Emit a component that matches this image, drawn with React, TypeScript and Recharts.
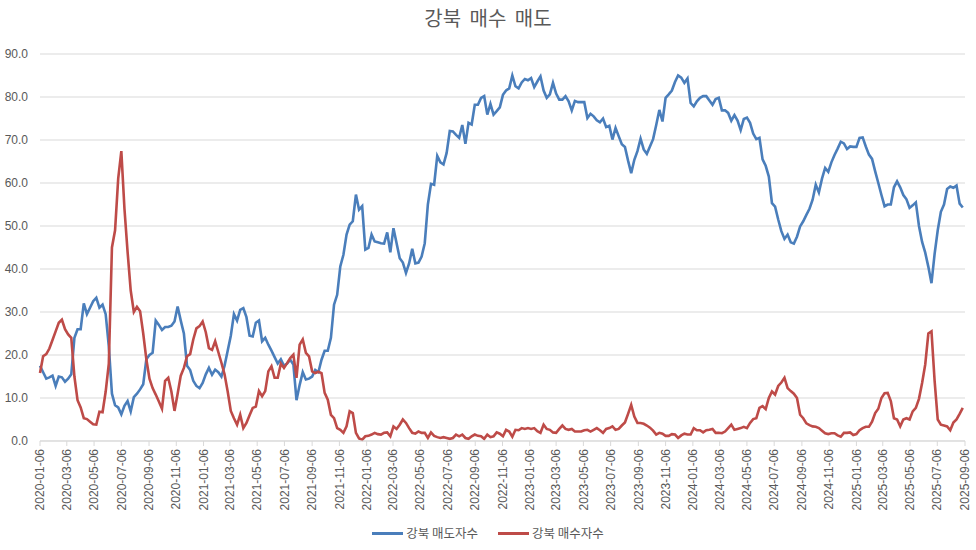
import { LineChart, Line, XAxis, YAxis, CartesianGrid } from 'recharts';

const startDate = '2020-01-06';

const tickLabels = [
  '2020-01-06', '2020-03-06', '2020-05-06', '2020-07-06', '2020-09-06', '2020-11-06',
  '2021-01-06', '2021-03-06', '2021-05-06', '2021-07-06', '2021-09-06', '2021-11-06',
  '2022-01-06', '2022-03-06', '2022-05-06', '2022-07-06', '2022-09-06', '2022-11-06',
  '2023-01-06', '2023-03-06', '2023-05-06', '2023-07-06', '2023-09-06', '2023-11-06',
  '2024-01-06', '2024-03-06', '2024-05-06', '2024-07-06', '2024-09-06', '2024-11-06',
  '2025-01-06', '2025-03-06', '2025-05-06', '2025-07-06', '2025-09-06',
];

const yTicks = [0, 10, 20, 30, 40, 50, 60, 70, 80, 90];

// 강북 매도자수, weekly from 2020-01-06
const sellCounts = [
  17.5, 16, 14.5, 14.8, 15.2, 12.8, 15, 14.8, 13.8, 14.5,
  15.5, 24, 26, 26, 32, 29.5, 31, 32.5, 33.3, 31,
  31.7, 29.5, 22, 11, 8.3, 7.8, 6.2, 8.2, 9.3, 6.9,
  10.2, 11, 12, 13.2, 19, 20, 20.5, 28, 27, 25.8,
  26.5, 26.5, 26.8, 27.8, 31.3, 28, 25, 17.5, 16.5, 14,
  12.8, 12.3, 13.5, 15.5, 17, 15.4, 16.6, 16, 15, 17.5,
  21, 24.5, 29.5, 28, 30.5, 30.9, 28.8, 24.5, 24.3, 27.5,
  28, 23.2, 24, 22.4, 21, 19.5, 18, 19, 17.5, 18,
  18.9, 17.8, 9.5, 13, 16, 14.3, 14.5, 15, 16.5, 16,
  18.9, 21, 21, 24, 31.7, 34, 40.6, 43.3, 48, 50.3,
  51.1, 57.3, 53.8, 54.6, 44.5, 44.9, 48, 46.4, 46.2, 46,
  45.9, 48.5, 43.9, 49.5, 46, 42.5, 41.5, 39.1, 41.3, 44.7,
  41.3, 41.5, 42.9, 46, 55, 59.8, 59.6, 66.3, 64.8, 64.3,
  67, 72.1, 72, 71.2, 70.5, 73.5, 69.1, 74, 73.6, 78.2,
  78.2, 79.8, 80.2, 75.9, 78.4, 75.9, 76.7, 77.6, 80.5, 81.5,
  82, 85, 82.5, 82, 83.4, 84.2, 83.9, 84.4, 82.3, 83.6,
  84.8, 81.5, 79.8, 80.6, 83.3, 80.8, 79.4, 79.4, 80.2, 79,
  76.9, 79.1, 78.8, 78.8, 78.8, 75.1, 76.1, 75.5, 74.6, 74.1,
  75, 73, 73.3, 70.1, 72.8, 70.9, 69, 68.4, 65.2, 62.3,
  65.4, 67.4, 70.3, 67.8, 66.8, 68.5, 70.2, 73.5, 77, 74.3,
  79.8, 80.6, 81.5, 83.5, 85, 84.5, 83.3, 84.3, 78.6, 77.8,
  79, 79.8, 80.2, 80.2, 79.2, 78.2, 79.5, 79.8, 76.9, 76.9,
  76.3, 74.5, 75.8, 74.5, 72.3, 74.9, 75.2, 74, 71.5, 70.2,
  70.5, 65.5, 64, 61.5, 55.3, 54.5, 51.5, 48.8, 47, 48,
  46.2, 45.9, 47.5, 49.9, 51.1, 52.6, 54, 56.1, 59.6, 57.8,
  61, 63.5, 62.6, 64.8, 66.5, 68, 69.6, 69.2, 67.9, 68.5,
  68.4, 68.4, 70.5, 70.6, 68.5, 66.6, 65.6, 62.7, 60, 57.2,
  54.6, 55, 55, 59, 60.4, 59, 57.2, 56.2, 54.2, 54.8,
  55.5, 50, 46.3, 43.8, 40.5, 36.7, 43.5, 49, 53.3, 55,
  58.6, 59.2, 58.9, 59.4, 55.2, 54.3,
];

// 강북 매수자수, weekly from 2020-01-06
const buyCounts = [
  15.8, 19.7, 20.2, 21.5, 23.5, 25.5, 27.5, 28.2, 26, 24.8,
  24, 15, 9.5, 7.8, 5.3, 5.1, 4.5, 3.9, 3.8, 6.8,
  6.7, 11.5, 18, 45, 49, 61, 67.4, 54, 44, 35,
  30, 31.2, 30.2, 25, 19, 14.5, 12.3, 10.8, 9.2, 7.5,
  14, 14.7, 11.5, 7, 11, 15.2, 17, 19.7, 20.2, 23.6,
  26.2, 26.7, 27.8, 25.3, 21.6, 21.2, 23.2, 20.7, 18.2, 15.5,
  11.5, 7, 5.3, 3.8, 6.1, 3, 4.2, 6, 7.7, 8,
  11.6, 10.4, 11.6, 16.2, 17.4, 14.7, 14.7, 18, 17, 18.1,
  19.3, 20.1, 14.7, 22.4, 23.6, 20.5, 19.7, 16.2, 15.8, 16.1,
  15.8, 11.2, 9.6, 6.1, 5.3, 3, 2.6, 1.9, 3.4, 6.9,
  6.5, 1.9, 0.6, 0.3, 1.1, 1.2, 1.5, 1.9, 1.6, 1.5,
  1.9, 2, 1.1, 3.4, 2.8, 3.8, 5, 4.2, 3, 1.9,
  1.7, 2.2, 1.9, 1.9, 0.7, 2, 1.2, 0.9, 0.7, 0.9,
  0.7, 0.5, 0.7, 1.5, 1.1, 1.5, 0.7, 0.5, 1.1, 1.5,
  1.2, 1.1, 0.5, 1.5, 0.9, 1.1, 2, 1.7, 1.1, 2.6,
  2.2, 1, 2.6, 2.5, 3, 2.8, 3, 2.8, 3, 2.3,
  1.9, 3.8, 2.8, 2.6, 2, 1.9, 2.8, 3.6, 2.8, 2.6,
  2.8, 2.2, 2.2, 2.2, 2.5, 2.6, 2.2, 2.6, 3, 2.5,
  1.9, 2.8, 3, 3.4, 2.6, 2.8, 3.6, 4.3, 6.3, 8.4,
  5.7, 4.2, 4.2, 4, 3.6, 3.1, 2.4, 1.5, 1.9, 1.7,
  1.2, 1.2, 1.6, 1.5, 0.7, 1.3, 1.7, 1.5, 1.5, 3,
  2.5, 2.5, 2, 2.5, 2.6, 2.8, 1.9, 1.9, 1.8, 2.2,
  3, 3.8, 2.6, 2.8, 3, 3.3, 3, 4.2, 5.1, 5.3,
  7.7, 8.1, 7.4, 10, 11.5, 10.8, 12.8, 13.6, 14.7, 12.3,
  11.6, 11, 10, 6.1, 5.3, 4.1, 3.7, 3.4, 3.3, 3,
  2.4, 1.8, 1.6, 1.8, 1.8, 1.3, 1, 1.9, 1.9, 2,
  1.4, 1.6, 2.5, 3, 3.3, 3.3, 4.5, 6.5, 7.5, 10,
  11.1, 11.2, 9.3, 5.3, 5, 3.4, 5, 5.3, 5, 6.9,
  7.7, 9.8, 13.5, 17.8, 25, 25.5, 14, 5, 3.8, 3.6,
  3.4, 2.5, 4.3, 5, 6.3, 7.7,
];

const toDay = (s: string) => {
  const [y, m, d] = s.split('-').map(Number);
  const [y0, m0, d0] = startDate.split('-').map(Number);
  return (Date.UTC(y, m - 1, d) - Date.UTC(y0, m0 - 1, d0)) / 86400000;
};

const tickDays = tickLabels.map(toDay);
const labelByDay: Record<number, string> = {};
tickLabels.forEach((l, i) => { labelByDay[tickDays[i]] = l; });

const data = sellCounts.map((v, i) => ({ day: i * 7, sell: v, buy: buyCounts[i] }));

const BLUE = '#4a7ebb';
const RED = '#be4b48';
const TEXT = '#595959';
const NUM_FONT = '"Liberation Sans", Arial, sans-serif';
const KR_FONT = '"Noto Sans CJK KR", "Noto Sans", sans-serif';

function DateTick(props: any) {
  const { x, y, payload } = props;
  return (
    <text
      x={x}
      y={y}
      dy="0.35em"
      transform={`rotate(-90, ${x}, ${y})`}
      textAnchor="end"
      fontSize={12}
      fill={TEXT}
      fontFamily={NUM_FONT}
    >
      {labelByDay[payload.value]}
    </text>
  );
}

function LegendItem({ color, label }: { color: string; label: string }) {
  return (
    <div style={{ display: 'flex', alignItems: 'center' }}>
      <div style={{ width: 31, height: 3, background: color, marginRight: 3 }} />
      <span>{label}</span>
    </div>
  );
}

export default function App() {
  return (
    <div style={{ position: 'absolute', left: 0, top: 0, width: 976, height: 550, background: '#fff' }}>
      <div
        style={{
          position: 'absolute', top: 4, left: 0, width: 976, textAlign: 'center',
          fontFamily: KR_FONT, fontSize: 20, color: TEXT, wordSpacing: 4, lineHeight: '28px',
        }}
      >
        강북 매수 매도
      </div>
      <LineChart width={976} height={550} data={data} margin={{ top: 54, right: 11, left: 0, bottom: 39 }}>
        <CartesianGrid vertical={false} stroke="#d9d9d9" />
        <XAxis
          dataKey="day"
          type="number"
          domain={[0, tickDays[tickDays.length - 1]]}
          ticks={tickDays}
          interval={0}
          height={70}
          stroke="#d9d9d9"
          tickSize={5}
          tickMargin={3}
          tick={<DateTick />}
        />
        <YAxis
          domain={[0, 90]}
          ticks={yTicks}
          width={40}
          axisLine={false}
          tickLine={false}
          tickMargin={6}
          tickFormatter={(v: number) => v.toFixed(1)}
          tick={{ fontSize: 12, fill: TEXT, fontFamily: NUM_FONT }}
        />
        <Line dataKey="sell" name="강북 매도자수" stroke={BLUE} strokeWidth={2.6} dot={false} isAnimationActive={false} />
        <Line dataKey="buy" name="강북 매수자수" stroke={RED} strokeWidth={2.6} dot={false} isAnimationActive={false} />
      </LineChart>
      <div
        style={{
          position: 'absolute', top: 523, left: 0, width: 976, display: 'flex', justifyContent: 'center',
          gap: 20, fontFamily: KR_FONT, fontSize: 12.5, color: TEXT, lineHeight: '20px',
        }}
      >
        <LegendItem color={BLUE} label="강북 매도자수" />
        <LegendItem color={RED} label="강북 매수자수" />
      </div>
    </div>
  );
}
